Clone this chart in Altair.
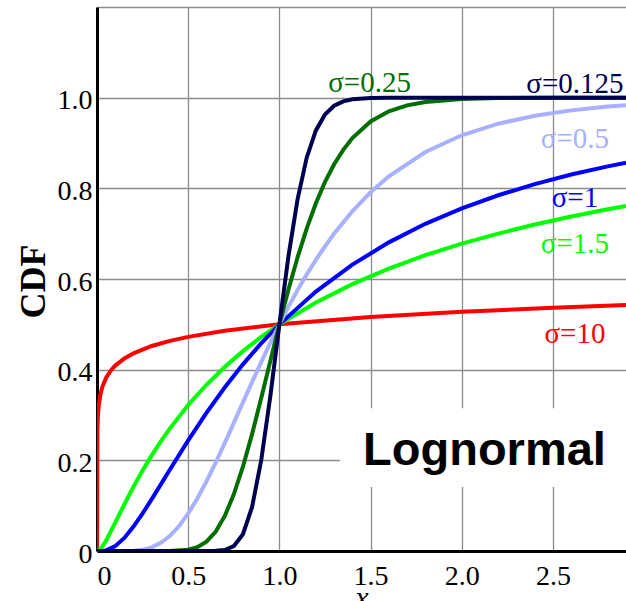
import altair as alt
import pandas as pd

# ---- data (lognormal CDF, mu = 0) ----
x_s0125 = [0, 0.6, 0.65, 0.7, 0.75, 0.8, 0.85, 0.9, 0.95, 1.0, 1.05, 1.1, 1.15, 1.2, 1.25,
           1.3, 1.35, 1.4, 1.5, 1.6, 2.0, 2.9]
y_s0125 = [0, 0.0, 0.0003, 0.0022, 0.0107, 0.0371, 0.0968, 0.1996, 0.3409, 0.5, 0.6517,
           0.7770, 0.8682, 0.9277, 0.9629, 0.9821, 0.9918, 0.9964, 0.9994, 1.0, 1.0, 1.0]

x_s025 = [0, 0.4, 0.5, 0.55, 0.6, 0.65, 0.7, 0.75, 0.8, 0.85, 0.9, 0.95, 1.0, 1.05, 1.1,
          1.15, 1.2, 1.25, 1.3, 1.35, 1.4, 1.5, 1.6, 1.7, 1.8, 2.0, 2.2, 2.5, 2.9]
y_s025 = [0, 0.0001, 0.0028, 0.0084, 0.0205, 0.0424, 0.0768, 0.1249, 0.1859, 0.2578,
          0.3369, 0.4188, 0.5, 0.5773, 0.6484, 0.7119, 0.7670, 0.8141, 0.8530, 0.8849,
          0.9109, 0.9476, 0.9699, 0.9831, 0.9906, 0.9972, 0.9992, 0.9999, 1.0]

x_s05 = [0, 0.1, 0.2, 0.25, 0.3, 0.35, 0.4, 0.45, 0.5, 0.55, 0.6, 0.65, 0.7, 0.75, 0.8,
         0.85, 0.9, 0.95, 1.0, 1.05, 1.1, 1.15, 1.2, 1.25, 1.3, 1.4, 1.5, 1.6, 1.8, 2.0,
         2.2, 2.4, 2.6, 2.8, 2.9]
y_s05 = [0, 0.0, 0.0006, 0.0028, 0.0080, 0.0179, 0.0334, 0.0550, 0.0829, 0.1159, 0.1534,
         0.1944, 0.2379, 0.2826, 0.3278, 0.3726, 0.4166, 0.4591, 0.5, 0.5390, 0.5757,
         0.6103, 0.6424, 0.6722, 0.7002, 0.7495, 0.7913, 0.8264, 0.8802, 0.9171, 0.9426,
         0.9600, 0.9720, 0.9803, 0.9834]

x_s1 = [0, 0.03, 0.05, 0.1, 0.15, 0.2, 0.25, 0.3, 0.35, 0.4, 0.5, 0.6, 0.7, 0.8, 0.9, 1.0,
        1.2, 1.4, 1.6, 1.8, 2.0, 2.2, 2.4, 2.6, 2.8, 2.9]
y_s1 = [0, 0.0002, 0.0014, 0.0107, 0.0289, 0.0538, 0.0829, 0.1143, 0.1469, 0.1799, 0.2441,
        0.3047, 0.3606, 0.4117, 0.4582, 0.5, 0.5723, 0.6317, 0.6808, 0.7217, 0.7559,
        0.7847, 0.8093, 0.8305, 0.8485, 0.8566]

x_s15 = [0, 0.02, 0.05, 0.1, 0.15, 0.2, 0.25, 0.3, 0.35, 0.4, 0.5, 0.6, 0.7, 0.8, 0.9, 1.0,
         1.2, 1.4, 1.6, 1.8, 2.0, 2.2, 2.4, 2.6, 2.8, 2.9]
y_s15 = [0, 0.0046, 0.0229, 0.0624, 0.1030, 0.1417, 0.1777, 0.2110, 0.2420, 0.2706, 0.3220,
         0.3667, 0.4060, 0.4408, 0.4721, 0.5, 0.5483, 0.5886, 0.6229, 0.6525, 0.6780,
         0.7002, 0.7201, 0.7380, 0.7539, 0.7612]

x_s10 = [0, 0.002, 0.005, 0.01, 0.02, 0.03, 0.05, 0.075, 0.1, 0.15, 0.2, 0.3, 0.4, 0.5,
         0.7, 1.0, 1.5, 2.0, 2.5, 2.9]
y_s10 = [0, 0.2671, 0.2981, 0.3226, 0.3478, 0.3628, 0.3822, 0.3978, 0.4090, 0.4248,
         0.4361, 0.4522, 0.4635, 0.4724, 0.4858, 0.5, 0.5162, 0.5276, 0.5365, 0.5424]

# drawing order: back to front
series_names = ["σ=10", "σ=1.5", "σ=1", "σ=0.5", "σ=0.25", "σ=0.125"]
series_x = [x_s10, x_s15, x_s1, x_s05, x_s025, x_s0125]
series_y = [y_s10, y_s15, y_s1, y_s05, y_s025, y_s0125]
series_colors = ["#ff0000", "#00ff00", "#0000ff", "#a8b0ff", "#006e00", "#000050"]

# label anchor positions (data units, baseline)
label_x = [2.62, 2.62, 2.62, 2.62, 1.494, 2.62]
label_y = [0.459, 0.657, 0.759, 0.889, 1.012, 1.010]

x_ticks = [0, 0.5, 1.0, 1.5, 2.0, 2.5]
y_ticks = [0, 0.2, 0.4, 0.6, 0.8, 1.0, 1.2]

title_text = ["Lognormal"]
title_pos_x = [2.124]
title_pos_y = [0.190]
box_x = [1.332, 2.9]
box_y = [0.141, 0.315]

# ---- chart ----
xs = alt.Scale(domain=[0, 2.9], nice=False, zero=False)
ys = alt.Scale(domain=[0, 1.2], nice=False, zero=False)

x_axis = alt.Axis(
    values=x_ticks, grid=True, ticks=False,
    labelExpr="datum.value == 0 ? '0' : format(datum.value, '.1f')",
    labelFont="Liberation Serif", labelFontSize=28, labelColor="black",
    labelPadding=11, labelBaseline="top",
    title="x", titleFont="Liberation Serif", titleFontSize=30,
    titleFontStyle="italic", titleFontWeight="normal", titleColor="black",
    titleY=55, titleBaseline="alphabetic",
)
y_axis = alt.Axis(
    values=y_ticks, grid=True, ticks=False,
    labelExpr="datum.value > 1.1 ? '' : (datum.value == 0 ? '0' : format(datum.value, '.1f'))",
    labelFont="Liberation Serif", labelFontSize=28, labelColor="black",
    labelPadding=5, labelBaseline="middle", labelOffset=3,
    title="CDF", titleFont="Liberation Serif", titleFontSize=36,
    titleFontWeight="bold", titleColor="black",
    titleX=-64, titleY=274, titleAngle=270, titleAlign="center", titleBaseline="middle",
)

layers = []
for name, xv, yv, col in zip(series_names, series_x, series_y, series_colors):
    d = pd.DataFrame({"x": xv, "y": yv})
    layers.append(
        alt.Chart(d).mark_line(color=col, strokeWidth=4, clip=True).encode(
            x=alt.X("x:Q", scale=xs, axis=x_axis),
            y=alt.Y("y:Q", scale=ys, axis=y_axis),
        )
    )

labels = pd.DataFrame({"text": series_names, "x": label_x, "y": label_y, "color": series_colors})
label_layer = alt.Chart(labels).mark_text(
    font="Liberation Serif", fontSize=29, align="center", baseline="alphabetic"
).encode(
    x=alt.X("x:Q", scale=xs),
    y=alt.Y("y:Q", scale=ys),
    text="text:N",
    color=alt.Color("color:N", scale=None),
)

box = pd.DataFrame({"x": [box_x[0]], "x2": [box_x[1]], "y": [box_y[0]], "y2": [box_y[1]]})
box_layer = alt.Chart(box).mark_rect(color="white", clip=True).encode(
    x=alt.X("x:Q", scale=xs), x2="x2:Q",
    y=alt.Y("y:Q", scale=ys), y2="y2:Q",
)

tdf = pd.DataFrame({"text": title_text, "x": title_pos_x, "y": title_pos_y})
title_layer = alt.Chart(tdf).mark_text(
    font="Liberation Sans", fontSize=47, fontWeight="bold", color="black",
    align="center", baseline="alphabetic"
).encode(
    x=alt.X("x:Q", scale=xs),
    y=alt.Y("y:Q", scale=ys),
    text="text:N",
)

chart = alt.layer(box_layer, *layers, label_layer, title_layer).properties(
    width=529, height=544,
    autosize=alt.AutoSizeParams(type="none"),
    padding={"left": 97, "top": 7, "right": 0, "bottom": 50},
    background="white",
).configure_view(stroke=None).configure_axis(
    gridColor="#8c8c8c", gridWidth=1.3, gridOpacity=1,
    domainColor="black", domainWidth=3,
)

chart.save("out.html", embed_options={"renderer": "svg", "actions": False})
